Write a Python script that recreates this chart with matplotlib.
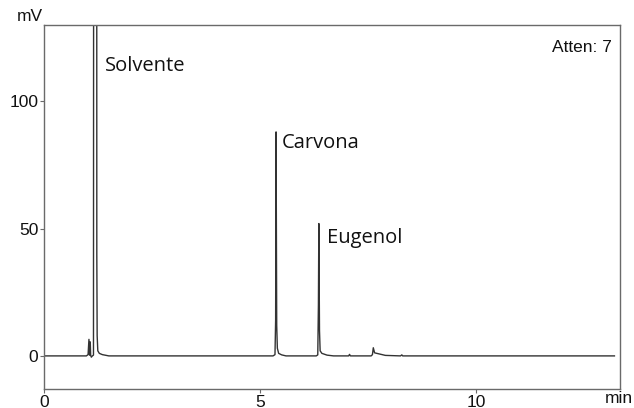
import numpy as np
import matplotlib.pyplot as plt

# chromatogram trace (time in min, signal in mV)
time = [0.0, 0.98, 1.02, 1.04, 1.055, 1.07, 1.08, 1.095, 1.12, 1.145, 1.16,
        1.215, 1.222, 1.23, 1.245, 1.28, 1.35, 1.5,
        5.30, 5.345, 5.36, 5.37, 5.385, 5.40, 5.43, 5.50, 5.6,
        6.30, 6.335, 6.35, 6.36, 6.375, 6.39, 6.43, 6.55, 6.7,
        7.05, 7.07, 7.09, 7.57, 7.60, 7.62, 7.65, 7.75, 7.9, 8.25, 8.28, 8.30,
        13.2]
signal = [0.0, 0.0, 0.5, 6.5, 0.3, 5.5, 0.2, -0.5, 0.0, 0.3, 800.0,
          800.0, 40.0, 8.0, 2.0, 1.0, 0.5, 0.0,
          0.0, 0.5, 14.0, 88.0, 12.0, 3.0, 1.0, 0.4, 0.0,
          0.0, 0.4, 20.0, 52.0, 10.0, 2.0, 1.0, 0.3, 0.0,
          0.0, 0.6, 0.0, 0.0, 0.5, 3.2, 1.2, 0.8, 0.2, 0.0, 0.4, 0.0,
          0.0]

peak_names = ['Solvente', 'Carvona', 'Eugenol']
peak_label_pos = [(1.41, 114), (5.51, 83.5), (6.55, 46.3)]

xticks = [0, 5, 10]
yticks = [0, 50, 100]

fig = plt.figure(figsize=(6.34, 4.08), dpi=100)
ax = fig.add_axes([0.0694, 0.0466, 0.9086, 0.8921])

ax.plot(time, signal, color='#333333', lw=1.0)

ax.set_xlim(0, 13.33)
ax.set_ylim(-13, 130)

for name, (tx, ty) in zip(peak_names, peak_label_pos):
    ax.text(tx, ty, name, fontsize=14.5, family='Open Sans', color='#111111',
            va='center', ha='left')

ax.text(0.985, 0.96, 'Atten: 7', transform=ax.transAxes, ha='right', va='top',
        fontsize=12.5, family='Liberation Sans', color='#111111')

for s in ax.spines.values():
    s.set_color('#6a6a6a')
    s.set_linewidth(1.0)

ax.set_xticks(xticks)
ax.set_yticks(yticks)
ax.tick_params(direction='out', length=3, width=0.8, colors='#6a6a6a',
               labelcolor='#111111', labelsize=12.5, pad=1)
for lbl in ax.get_xticklabels() + ax.get_yticklabels():
    lbl.set_family('Liberation Sans')

fig.text(0.068, 0.94, 'mV', ha='right', va='bottom', fontsize=12.5,
         family='Liberation Sans', color='#111111')
fig.text(0.998, 0.004, 'min', ha='right', va='bottom', fontsize=12.5,
         family='Liberation Sans', color='#111111')

fig.savefig('out.png', dpi=100)
